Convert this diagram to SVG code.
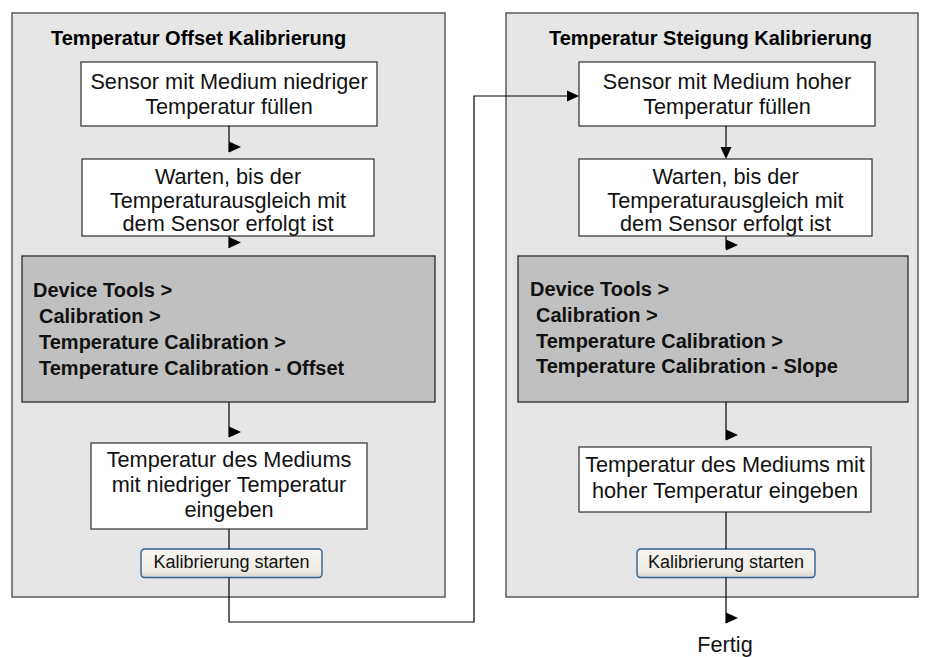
<svg xmlns="http://www.w3.org/2000/svg" width="931" height="657" viewBox="0 0 931 657">
  <defs>
    <style>
      .panel { fill: #e6e6e6; stroke: #666666; stroke-width: 1.6; }
      .step { fill: #ffffff; stroke: #3c3c3c; stroke-width: 1.3; }
      .menu { fill: #c0c0c0; stroke: #2a2a2a; stroke-width: 1.3; }
      .btn { fill: url(#btnFill); stroke: #2f5f93; stroke-width: 1.4; }
      .title { font-family: "Liberation Sans", Arial, sans-serif; font-size: 20px; font-weight: bold; fill: #000; }
      .menutxt { font-family: "Liberation Sans", Arial, sans-serif; font-size: 20px; font-weight: bold; fill: #111; }
      .txt { font-family: "Liberation Sans", Arial, sans-serif; font-size: 21.7px; fill: #111; text-anchor: middle; }
      .btntxt { font-family: "Liberation Sans", Arial, sans-serif; font-size: 18px; fill: #111; text-anchor: middle; }
      .wire { fill: none; stroke: #000; stroke-width: 1.2; }
      .head { fill: #000; }
    </style>
    <linearGradient id="btnFill" x1="0" y1="0" x2="0" y2="1">
      <stop offset="0" stop-color="#f5f4ef"/>
      <stop offset="0.75" stop-color="#eeece5"/>
      <stop offset="1" stop-color="#d9d6cc"/>
    </linearGradient>
    <path id="tri-r" d="M0,-5.5 L12,0 L0,5.5 Z"/>
    <path id="tri-d" d="M-5.5,0 L5.5,0 L0,12 Z"/>
  </defs>

  <!-- Offset calibration panel -->
  <g id="panel-offset">
    <rect class="panel" x="12" y="13" width="433" height="584"/>
    <text class="title" x="51" y="45">Temperatur Offset Kalibrierung</text>
  </g>
  <g id="offset-fill">
    <rect class="step" x="81" y="62" width="296" height="64"/>
    <text class="txt" x="229" y="89">Sensor mit Medium niedriger</text>
    <text class="txt" x="229" y="114">Temperatur füllen</text>
  </g>
  <g id="offset-wait">
    <rect class="step" x="82" y="159" width="292" height="77"/>
    <text class="txt" x="228" y="184">Warten, bis der</text>
    <text class="txt" x="228" y="207.5">Temperaturausgleich mit</text>
    <text class="txt" x="228" y="231">dem Sensor erfolgt ist</text>
  </g>
  <g id="offset-menu">
    <rect class="menu" x="22" y="256" width="413" height="146"/>
    <text class="menutxt" x="33" y="297">Device Tools &gt;</text>
    <text class="menutxt" x="39" y="323">Calibration &gt;</text>
    <text class="menutxt" x="39" y="349">Temperature Calibration &gt;</text>
    <text class="menutxt" x="39" y="375">Temperature Calibration - Offset</text>
  </g>
  <g id="offset-enter">
    <rect class="step" x="91" y="443" width="276" height="86"/>
    <text class="txt" x="229" y="467">Temperatur des Mediums</text>
    <text class="txt" x="229" y="492">mit niedriger Temperatur</text>
    <text class="txt" x="229" y="517">eingeben</text>
  </g>
  <g id="offset-start">
    <rect class="btn" x="141" y="549" width="181" height="28.5" rx="3.5"/>
    <text class="btntxt" x="231.5" y="568">Kalibrierung starten</text>
  </g>

  <!-- Slope calibration panel -->
  <g id="panel-slope">
    <rect class="panel" x="506" y="13" width="412" height="584"/>
    <text class="title" x="549" y="45">Temperatur Steigung Kalibrierung</text>
  </g>
  <g id="slope-fill">
    <rect class="step" x="579" y="62" width="296" height="64"/>
    <text class="txt" x="727" y="89">Sensor mit Medium hoher</text>
    <text class="txt" x="727" y="114">Temperatur füllen</text>
  </g>
  <g id="slope-wait">
    <rect class="step" x="579" y="159" width="293" height="77"/>
    <text class="txt" x="725.5" y="184">Warten, bis der</text>
    <text class="txt" x="725.5" y="207.5">Temperaturausgleich mit</text>
    <text class="txt" x="725.5" y="231">dem Sensor erfolgt ist</text>
  </g>
  <g id="slope-menu">
    <rect class="menu" x="518" y="256" width="390" height="146"/>
    <text class="menutxt" x="530" y="296">Device Tools &gt;</text>
    <text class="menutxt" x="536" y="322">Calibration &gt;</text>
    <text class="menutxt" x="536" y="348">Temperature Calibration &gt;</text>
    <text class="menutxt" x="536" y="373">Temperature Calibration - Slope</text>
  </g>
  <g id="slope-enter">
    <rect class="step" x="579" y="447" width="292" height="65"/>
    <text class="txt" x="725" y="472">Temperatur des Mediums mit</text>
    <text class="txt" x="725" y="498">hoher Temperatur eingeben</text>
  </g>
  <g id="slope-start">
    <rect class="btn" x="637" y="549" width="178" height="28.5" rx="3.5"/>
    <text class="btntxt" x="726" y="568">Kalibrierung starten</text>
  </g>
  <g id="done">
    <text class="txt" x="725" y="652">Fertig</text>
  </g>

  <!-- Connectors -->
  <g id="connectors">
    <path class="wire" d="M229,126 V152"/>
    <use href="#tri-r" class="head" x="229" y="147"/>
    <path class="wire" d="M229,236 V248"/>
    <use href="#tri-r" class="head" x="229" y="242.5"/>
    <path class="wire" d="M229,402 V437"/>
    <use href="#tri-r" class="head" x="229" y="432"/>
    <path class="wire" d="M229,529 V549"/>
    <path class="wire" d="M229,577.5 V622 H474 V96 H568"/>
    <use href="#tri-r" class="head" x="567" y="96"/>

    <path class="wire" d="M726,126 V150"/>
    <use href="#tri-d" class="head" x="726" y="147"/>
    <path class="wire" d="M726,236 V249"/>
    <use href="#tri-r" class="head" x="726" y="245"/>
    <path class="wire" d="M726,402 V440"/>
    <use href="#tri-r" class="head" x="726" y="435"/>
    <path class="wire" d="M726,512 V549"/>
    <path class="wire" d="M726,577.5 V623"/>
    <use href="#tri-r" class="head" x="726" y="618"/>
  </g>
</svg>
